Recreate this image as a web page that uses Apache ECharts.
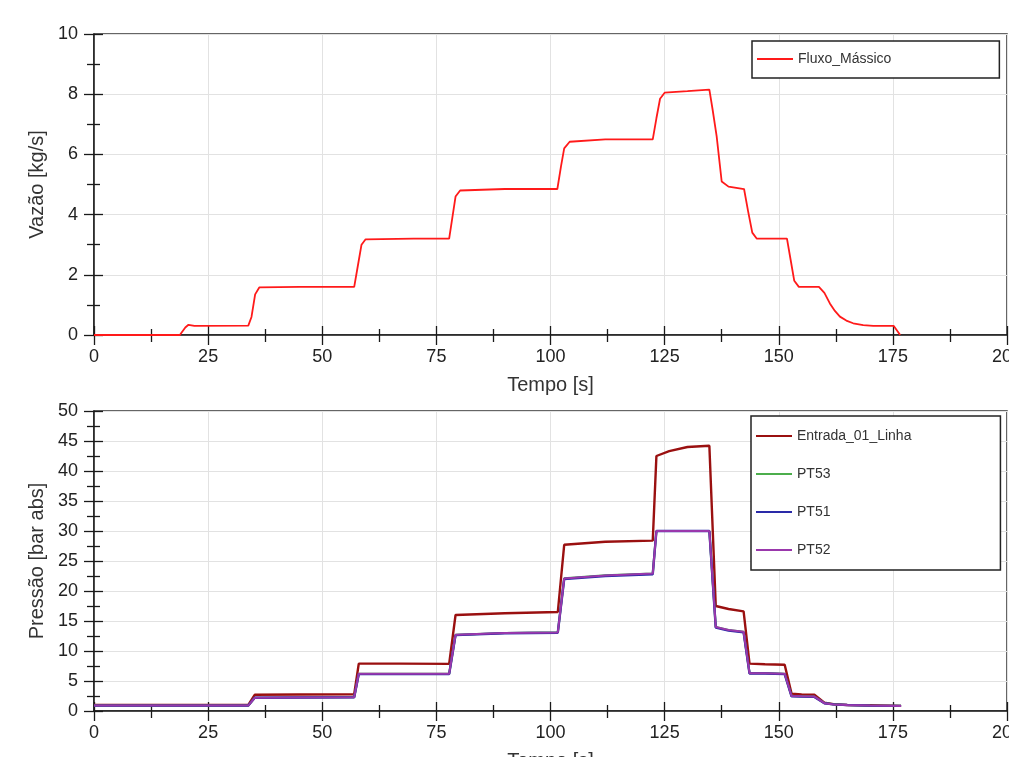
<!DOCTYPE html>
<html>
<head>
<meta charset="utf-8">
<script src="https://cdn.jsdelivr.net/npm/echarts@6/dist/echarts.min.js"></script>
<style>
  html, body { margin: 0; padding: 0; background: #fff; }
  #chart { width: 1009px; height: 757px; }
</style>
</head>
<body>
<div id="chart"></div>
<script>
// mass flow
const fluxoTime = [0, 18.8, 20.0, 20.7, 22, 33.8, 34.5, 35.3, 36.2, 45, 57.0, 57.8, 58.6, 59.5, 70,
    77.8, 78.5, 79.2, 80.2, 90, 101.5, 102.3, 103.0, 104.2, 112, 122.4, 123.2, 124.0, 125.0, 130,
    134.8, 135.5, 136.4, 137.5, 139, 142.4, 143.3, 144.2, 145.2, 151.8, 152.6, 153.4, 154.4, 158.8,
    160, 161.2, 162.3, 163.4, 164.8, 166.3, 168.5, 170.7, 175.2, 176.6]
const fluxoVals = [0, 0, 0.25, 0.34, 0.3, 0.31, 0.6, 1.35, 1.58, 1.6, 1.6, 2.3, 3.0, 3.18, 3.2,
    3.2, 3.9, 4.6, 4.8, 4.85, 4.85, 5.6, 6.2, 6.42, 6.5, 6.5, 7.2, 7.85, 8.05, 8.1,
    8.15, 7.5, 6.6, 5.1, 4.93, 4.85, 4.1, 3.4, 3.2, 3.2, 2.5, 1.8, 1.6, 1.6,
    1.4, 1.05, 0.8, 0.61, 0.48, 0.39, 0.33, 0.3, 0.3, 0]

// pressures (shared time base)
const pressTime = [0, 10, 20, 33.8, 35.2, 45, 57.0, 58.0, 67, 77.8, 79.2, 90, 101.6, 103.0, 112,
    122.4, 123.2, 126, 130, 134.8, 136.2, 139, 142.3, 143.6, 147, 151.3, 152.8, 155, 157.8,
    160, 162, 165, 170, 176.8]
const entradaVals = [1.0, 1.0, 1.0, 1.0, 2.7, 2.75, 2.8, 7.9, 7.9, 7.85, 16.0, 16.3, 16.5, 27.7, 28.2,
    28.4, 42.5, 43.3, 44.0, 44.2, 17.5, 17.0, 16.6, 7.9, 7.8, 7.7, 2.9, 2.75, 2.7,
    1.4, 1.15, 1.0, 0.95, 0.85]
const pt53Vals = [0.9, 0.9, 0.9, 0.9, 2.2, 2.25, 2.3, 6.2, 6.2, 6.2, 12.7, 13.0, 13.1, 22.1, 22.6,
    22.9, 30, 30, 30, 30, 14.0, 13.5, 13.2, 6.3, 6.3, 6.2, 2.5, 2.45, 2.4,
    1.3, 1.1, 1.0, 0.9, 0.85]
const pt51Vals = [0.9, 0.9, 0.9, 0.9, 2.2, 2.25, 2.3, 6.15, 6.15, 6.15, 12.65, 12.95, 13.05, 22.0, 22.5,
    22.8, 30, 30, 30, 30, 13.9, 13.4, 13.1, 6.25, 6.25, 6.15, 2.45, 2.4, 2.35,
    1.3, 1.1, 1.0, 0.9, 0.85]
const pt52Vals = [0.9, 0.9, 0.9, 0.9, 2.2, 2.25, 2.3, 6.2, 6.2, 6.2, 12.7, 13.0, 13.1, 22.1, 22.6,
    22.9, 30, 30, 30, 30, 14.0, 13.5, 13.2, 6.3, 6.3, 6.2, 2.5, 2.45, 2.4,
    1.3, 1.1, 1.0, 0.9, 0.85]

const timeRange = [0, 200, 25]
const flowRange = [0, 10, 2]
const pressRange = [0, 50, 5]

const toPairs = (t, v) => t.map((x, i) => [x, v[i]])

const axisColor = '#1a1a1a'
const labelColor = '#222'

// main axis: outward ticks, labels, grid lines
function mainAxis(gridIndex, range, extra) {
    return Object.assign({
        gridIndex: gridIndex,
        type: 'value',
        min: range[0],
        max: range[1],
        interval: range[2],
        nameLocation: 'middle',
        nameTextStyle: { fontSize: 20, color: '#333', fontFamily: 'Liberation Sans' },
        axisLine: { onZero: false, lineStyle: { color: axisColor, width: 1.5 } },
        axisTick: { length: 10, lineStyle: { color: axisColor, width: 1.3 } },
        minorTick: { show: true, splitNumber: 2, length: 7, lineStyle: { color: axisColor, width: 1.3 } },
        axisLabel: { fontSize: 18, color: labelColor, fontFamily: 'Liberation Sans' },
        splitLine: { show: true, lineStyle: { color: '#e2e2e2', width: 1 } }
    }, extra)
}

// twin axis: only the inward half of the ticks
function tickAxis(gridIndex, range, extra) {
    return Object.assign({
        gridIndex: gridIndex,
        type: 'value',
        min: range[0],
        max: range[1],
        interval: range[2],
        axisLine: { show: false, onZero: false },
        axisTick: { inside: true, length: 9, lineStyle: { color: axisColor, width: 1.3 } },
        minorTick: { show: true, splitNumber: 2, length: 6, lineStyle: { color: axisColor, width: 1.3 } },
        axisLabel: { show: false },
        splitLine: { show: false }
    }, extra)
}

const gridBox = { show: true, left: 94, width: 913, borderColor: '#333', borderWidth: 1.5,
    containLabel: false, outerBoundsMode: 'none' }

const legendBase = {
    orient: 'vertical',
    icon: 'rect',
    itemWidth: 36,
    itemHeight: 2,
    itemGap: 24,
    backgroundColor: '#fff',
    borderColor: '#222',
    borderWidth: 1.5,
    borderRadius: 0,
    textStyle: { fontSize: 14, color: '#333', fontFamily: 'Liberation Sans', padding: [0, 0, 0, 0] }
}

const chart = echarts.init(document.getElementById('chart'), null, { renderer: 'canvas' })

const option = {
    animation: false,
    backgroundColor: '#fff',
    grid: [
        Object.assign({ top: 34, height: 301 }, gridBox),
        Object.assign({ top: 411, height: 300 }, gridBox)
    ],
    xAxis: [
        mainAxis(0, timeRange, { position: 'bottom', name: 'Tempo [s]', nameGap: 40, axisLabel: { fontSize: 18, color: labelColor, margin: 13, fontFamily: 'Liberation Sans' } }),
        tickAxis(0, timeRange, { position: 'bottom' }),
        mainAxis(1, timeRange, { position: 'bottom', name: 'Tempo [s]', nameGap: 40, axisLabel: { fontSize: 18, color: labelColor, margin: 13, fontFamily: 'Liberation Sans' } }),
        tickAxis(1, timeRange, { position: 'bottom' })
    ],
    yAxis: [
        mainAxis(0, flowRange, { position: 'left', name: 'Vazão [kg/s]', nameGap: 46, axisLabel: { fontSize: 18, color: labelColor, margin: 16, fontFamily: 'Liberation Sans' } }),
        tickAxis(0, flowRange, { position: 'left' }),
        mainAxis(1, pressRange, { position: 'left', name: 'Pressão [bar abs]', nameGap: 46, axisLabel: { fontSize: 18, color: labelColor, margin: 16, fontFamily: 'Liberation Sans' } }),
        tickAxis(1, pressRange, { position: 'left' })
    ],
    legend: [
        Object.assign({}, legendBase, {
            data: ['Fluxo_Mássico'],
            left: 752, top: 41,
            padding: [11, 108, 12, 5]
        }),
        Object.assign({}, legendBase, {
            data: ['Entrada_01_Linha', 'PT53', 'PT51', 'PT52'],
            left: 751, top: 416,
            padding: [13, 89, 13, 5]
        })
    ],
    series: [
        {
            name: 'Fluxo_Mássico', type: 'line', xAxisIndex: 0, yAxisIndex: 0,
            data: toPairs(fluxoTime, fluxoVals), symbol: 'none', smooth: false,
            color: '#ff1a1a', lineStyle: { width: 1.8, color: '#ff1a1a' }
        },
        {
            name: 'Entrada_01_Linha', type: 'line', xAxisIndex: 2, yAxisIndex: 2,
            data: toPairs(pressTime, entradaVals), symbol: 'none',
            color: '#9a1010', lineStyle: { width: 2.4, color: '#9a1010' }
        },
        {
            name: 'PT53', type: 'line', xAxisIndex: 2, yAxisIndex: 2,
            data: toPairs(pressTime, pt53Vals), symbol: 'none',
            color: '#4cae4c', lineStyle: { width: 2.2, color: '#4cae4c' }
        },
        {
            name: 'PT51', type: 'line', xAxisIndex: 2, yAxisIndex: 2,
            data: toPairs(pressTime, pt51Vals), symbol: 'none',
            color: '#2a2aa8', lineStyle: { width: 2.4, color: '#2a2aa8' }
        },
        {
            name: 'PT52', type: 'line', xAxisIndex: 2, yAxisIndex: 2,
            data: toPairs(pressTime, pt52Vals), symbol: 'none',
            color: '#9a38ac', lineStyle: { width: 2, color: '#9a38ac' }
        }
    ]
}

if (option && typeof option === 'object') {
    chart.setOption(option, true)
}
</script>
</body>
</html>
